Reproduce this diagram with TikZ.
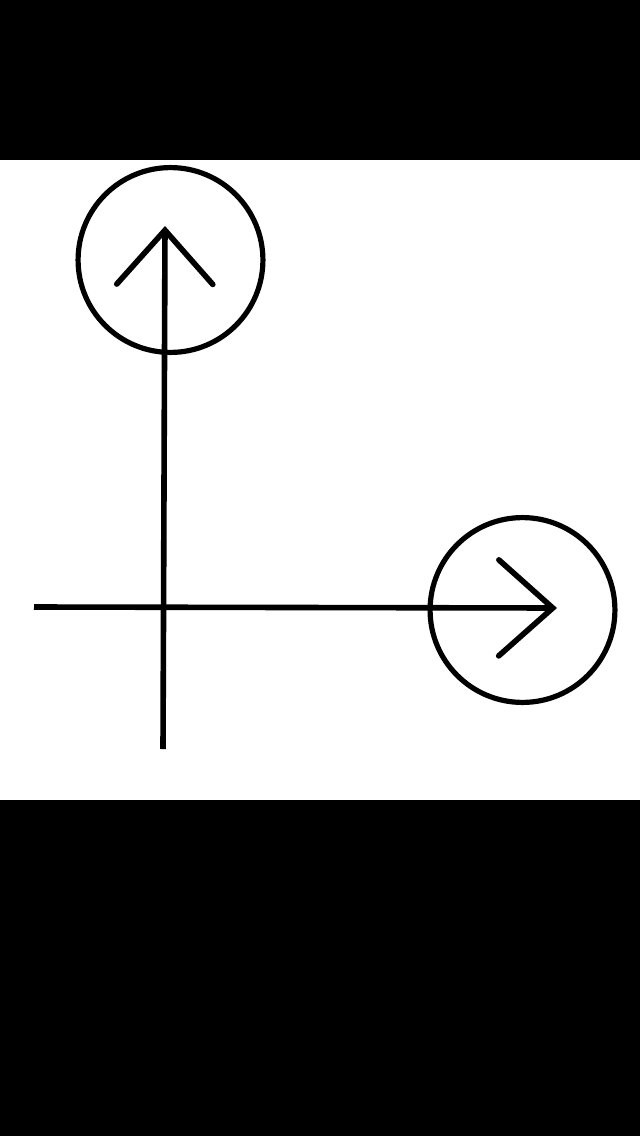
\documentclass[tikz,border=0pt]{standalone}
\usepackage{xcolor}
\usetikzlibrary{arrows.meta,positioning}
\definecolor{inkblack}{HTML}{000000}

\begin{document}
\begin{tikzpicture}[
  x=0.025cm, y=-0.025cm,
  line width=0.14cm,
  ring/.style={circle, draw=inkblack, line width=0.13cm, minimum size=4.62cm, inner sep=0pt},
  axis/.style={-{Straight Barb[length=1.35cm, width=2.4cm, line cap=round]}, draw=inkblack, line width=0.14cm}
]
  % frame: black bars above and below the white square
  \fill[black] (0,0) rectangle (640,1136);
  \fill[white] (0,160) rectangle (640,800);
  \useasboundingbox (0,0) rectangle (640,1136);

  \node[ring] (upring) at (170.5,260) {};
  \node[ring] (rightring) at (522.5,610) {};

  \coordinate (ybottom) at (163,749);
  \coordinate (ytip) at (165,226);
  \coordinate (xleft) at (34,607);
  \coordinate (xtip) at (557,608);

  \draw[axis] (ybottom) -- (ytip);
  \draw[axis] (xleft) -- (xtip);
\end{tikzpicture}
\end{document}
